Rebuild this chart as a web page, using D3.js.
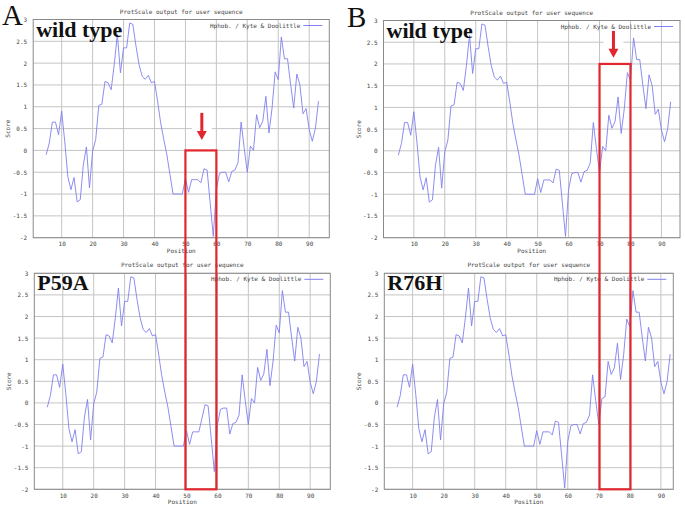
<!DOCTYPE html>
<html><head><meta charset="utf-8">
<script src="https://cdn.jsdelivr.net/npm/d3@7"></script>
<style>html,body{margin:0;padding:0;background:#fff;}</style>
</head><body>
<svg id="fig" width="685" height="509"></svg>
<script>
// ---------- data ----------
const firstPosition = 5;
const wildType = [-0.1,0.17,0.65,0.65,0.36,0.9,0.2,-0.6,-0.9,-0.62,-1.18,-1.13,-0.33,0.08,-0.86,-0.02,0.25,1.03,1.06,1.58,
  1.55,1.39,1.97,2.66,1.78,2.35,2.35,2.92,2.89,2.4,1.97,1.7,1.63,1.72,1.55,1.58,1.13,0.63,0.25,-0.1,
  -0.55,-1.0,-1.0,-1.0,-1.0,-0.64,-0.96,-0.67,-0.67,-0.67,-0.74,-0.42,-0.45,-1.2,-1.97,-0.89,-0.53,-0.5,-0.5,-0.72,
  -0.48,-0.45,-0.28,0.65,0.05,-0.5,0.1,0.0,0.82,0.52,0.67,1.24,0.4,0.97,1.8,1.62,2.6,2.1,2.1,1.51,
  0.97,1.75,1.5,0.84,0.96,0.48,0.21,0.5,1.13];
const p59a = [-0.1,0.17,0.65,0.65,0.36,0.9,0.2,-0.6,-0.9,-0.62,-1.18,-1.13,-0.33,0.08,-0.86,-0.02,0.25,1.03,1.06,1.58,
  1.55,1.39,1.97,2.66,1.78,2.35,2.35,2.92,2.89,2.4,1.97,1.7,1.63,1.72,1.55,1.58,1.13,0.63,0.25,-0.1,
  -0.55,-1.0,-1.0,-1.0,-1.0,-0.64,-0.96,-0.67,-0.67,-0.67,-0.36,-0.04,-0.07,-0.82,-1.59,-0.51,-0.15,-0.12,-0.12,-0.72,
  -0.48,-0.45,-0.28,0.65,0.05,-0.5,0.1,0.0,0.82,0.52,0.67,1.24,0.4,0.97,1.8,1.62,2.6,2.1,2.1,1.51,
  0.97,1.75,1.5,0.84,0.96,0.48,0.21,0.5,1.13];
const r76h = [-0.1,0.17,0.65,0.65,0.36,0.9,0.2,-0.6,-0.9,-0.62,-1.18,-1.13,-0.33,0.08,-0.86,-0.02,0.25,1.03,1.06,1.58,
  1.55,1.39,1.97,2.66,1.78,2.35,2.35,2.92,2.89,2.4,1.97,1.7,1.63,1.72,1.55,1.58,1.13,0.63,0.25,-0.1,
  -0.55,-1.0,-1.0,-1.0,-1.0,-0.64,-0.96,-0.67,-0.67,-0.67,-0.74,-0.42,-0.45,-1.2,-1.97,-0.89,-0.53,-0.5,-0.5,-0.72,
  -0.48,-0.45,-0.28,0.65,0.05,-0.5,0.1,0.14,0.96,0.66,0.81,1.38,0.54,1.11,1.94,1.76,2.6,2.1,2.1,1.51,
  0.97,1.75,1.5,0.84,0.96,0.48,0.21,0.5,1.13];
const xTicks = [10,20,30,40,50,60,70,80,90];
const yTicks = [3,2.5,2,1.5,1,0.5,0,-0.5,-1,-1.5,-2];
const yTickLabels = ["3","2.5","2","1.5","1","0.5","0","-0.5","-1","-1.5","-2"];
const titleText = "ProtScale output for user sequence";
const legendText = "Hphob. / Kyte & Doolittle";
const panelLabels = ["wild type","P59A","wild type","R76H"];
const figLetters = ["A","B"];
const boxA = {x0:50, x1:60, yTop:0, yBottom:-2};
const boxB = {x0:70, x1:80, yTop:2, yBottom:-2};

// ---------- layout ----------
const panels = [
  {data: wildType, label: panelLabels[0], left:33.2, right:329.3, top:19.5, bottom:237.7, xmin:0.8, xmax:96.5},
  {data: p59a,     label: panelLabels[1], left:34.3, right:330.3, top:273.3, bottom:489.3, xmin:0.8, xmax:96.5},
  {data: wildType, label: panelLabels[2], left:383.5, right:680, top:20.5, bottom:237.7, xmin:0.2, xmax:96.0},
  {data: r76h,     label: panelLabels[3], left:384.3, right:673.3, top:273.3, bottom:489.3, xmin:0.87, xmax:94.0}
];

const svg = d3.select("#fig");
const lineColor = "#8080f0";
const gridColor = "#c4c4c4";
const borderColor = "#8a8a8a";
const red = "#e1262d";
const mono = "'DejaVu Sans Mono', monospace";

panels.forEach(p => {
  p.x = d3.scaleLinear().domain([p.xmin, p.xmax]).range([p.left, p.right]);
  p.y = d3.scaleLinear().domain([-2, 3]).range([p.bottom, p.top]);
  const g = svg.append("g");
  g.selectAll(".vg").data(xTicks).join("line")
    .attr("x1", d => p.x(d)).attr("x2", d => p.x(d))
    .attr("y1", p.top).attr("y2", p.bottom)
    .attr("stroke", gridColor).attr("stroke-width", 1);
  g.selectAll(".hg").data(yTicks).join("line")
    .attr("x1", p.left).attr("x2", p.right)
    .attr("y1", d => p.y(d)).attr("y2", d => p.y(d))
    .attr("stroke", gridColor).attr("stroke-width", 1);
  const xa = d3.axisBottom(p.x).tickValues(xTicks).tickSize(0).tickPadding(4);
  const ya = d3.axisLeft(p.y).tickValues(yTicks).tickFormat((d,i) => yTickLabels[i]).tickSize(0).tickPadding(6);
  const gx = g.append("g").attr("transform", `translate(0,${p.bottom})`).call(xa);
  const gy = g.append("g").attr("transform", `translate(${p.left},0)`).call(ya);
  [gx, gy].forEach(a => {
    a.select(".domain").remove();
    a.selectAll("text").attr("font-family", mono).attr("font-size", 6).attr("fill", "#444");
  });
  g.append("rect").attr("x", p.left).attr("y", p.top)
    .attr("width", p.right - p.left).attr("height", p.bottom - p.top)
    .attr("fill", "none").attr("stroke", borderColor).attr("stroke-width", 1);
  g.append("text").attr("x", (p.left + p.right) / 2).attr("y", p.top - 6)
    .attr("text-anchor", "middle").attr("font-family", mono).attr("font-size", 6).attr("fill", "#444")
    .text(titleText);
  g.append("text").attr("x", (p.left + p.right) / 2).attr("y", p.bottom + 15)
    .attr("text-anchor", "middle").attr("font-family", mono).attr("font-size", 6).attr("fill", "#444")
    .text("Position");
  g.append("text")
    .attr("transform", `translate(${p.left - 23},${(p.top + p.bottom) / 2}) rotate(-90)`)
    .attr("text-anchor", "middle").attr("font-family", mono).attr("font-size", 6).attr("fill", "#444")
    .text("Score");
  g.append("text").attr("x", p.right - 29).attr("y", p.top + 8)
    .attr("text-anchor", "end").attr("font-family", mono).attr("font-size", 6).attr("fill", "#444")
    .text(legendText);
  g.append("line").attr("x1", p.right - 26).attr("x2", p.right - 7)
    .attr("y1", p.top + 6).attr("y2", p.top + 6).attr("stroke", lineColor).attr("stroke-width", 1);
  const line = d3.line().x((d, i) => p.x(firstPosition + i)).y(d => p.y(d));
  g.append("path").datum(p.data).attr("d", line)
    .attr("fill", "none").attr("stroke", lineColor).attr("stroke-width", 0.9);
  g.append("text").attr("x", p.left + 3).attr("y", p.top + 17)
    .attr("font-family", "'Liberation Serif', serif").attr("font-weight", "bold").attr("font-size", 22)
    .attr("fill", "#111").text(p.label);
});

function drawBox(pt, pb, b) {
  svg.append("rect")
    .attr("x", pt.x(b.x0)).attr("y", pt.y(b.yTop))
    .attr("width", pt.x(b.x1) - pt.x(b.x0))
    .attr("height", pb.y(b.yBottom) - pt.y(b.yTop))
    .attr("fill", "none").attr("stroke", red).attr("stroke-width", 2.2);
}
function drawArrow(p, xv, yFrom, yTo) {
  const cx = p.x(xv), y0 = p.y(yFrom), y1 = p.y(yTo);
  svg.append("rect").attr("x", cx - 10).attr("y", y0 - 1).attr("width", 20).attr("height", y1 - y0 + 3).attr("fill", "#fff");
  svg.append("line").attr("x1", cx).attr("x2", cx).attr("y1", y0).attr("y2", y1 - 8)
    .attr("stroke", red).attr("stroke-width", 3);
  svg.append("path").attr("d", `M${cx - 5},${y1 - 9} L${cx + 5},${y1 - 9} L${cx},${y1} Z`).attr("fill", red);
}
drawArrow(panels[0], 55.3, 0.86, 0.24);
drawArrow(panels[2], 74.5, 2.76, 2.14);
drawBox(panels[0], panels[1], boxA);
drawBox(panels[2], panels[3], boxB);

svg.append("text").attr("x", 2).attr("y", 25).attr("font-family", "'Liberation Serif', serif")
  .attr("font-size", 29).attr("fill", "#111").text(figLetters[0]);
svg.append("text").attr("x", 347).attr("y", 27).attr("font-family", "'Liberation Serif', serif")
  .attr("font-size", 29).attr("fill", "#111").text(figLetters[1]);
</script>
</body></html>
